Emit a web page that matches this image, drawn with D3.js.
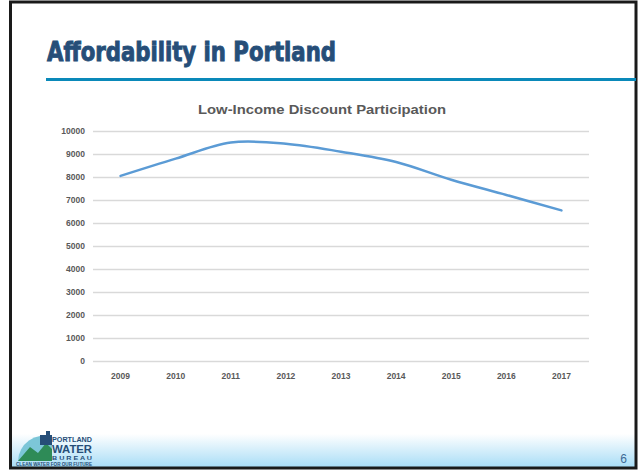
<!DOCTYPE html>
<html>
<head>
<meta charset="utf-8">
<script src="https://cdn.jsdelivr.net/npm/d3@7"></script>
<style>
  body { margin: 0; background: #fff; }
  svg { display: block; font-family: "Liberation Sans", Arial, sans-serif; }
</style>
</head>
<body>
<div id="wrapper"></div>
<script>
// data
const years = ["2009", "2010", "2011", "2012", "2013", "2014", "2015", "2016", "2017"];
const participants = [8050, 8800, 9500, 9450, 9100, 8650, 7880, 7220, 6550];
const yTicks = [0, 1000, 2000, 3000, 4000, 5000, 6000, 7000, 8000, 9000, 10000];

function drawSlide() {
  const dimensions = {
    width: 639,
    height: 471,
    margin: { top: 131, right: 50, bottom: 110, left: 93 },
  };
  dimensions.boundedWidth = 496;
  dimensions.boundedHeight =
    dimensions.height - dimensions.margin.top - dimensions.margin.bottom;

  const wrapper = d3
    .select("#wrapper")
    .append("svg")
    .attr("width", dimensions.width)
    .attr("height", dimensions.height);

  const defs = wrapper.append("defs");
  const grad = defs
    .append("linearGradient")
    .attr("id", "footerGrad")
    .attr("x1", 0).attr("y1", 0).attr("x2", 0).attr("y2", 1);
  grad.append("stop").attr("offset", "0%").attr("stop-color", "#ffffff");
  grad.append("stop").attr("offset", "100%").attr("stop-color", "#a6dcf6");

  // footer band
  wrapper
    .append("rect")
    .attr("x", 10)
    .attr("y", 434)
    .attr("width", 626)
    .attr("height", 34)
    .attr("fill", "url(#footerGrad)");

  // slide frame
  wrapper
    .append("rect")
    .attr("x", 10.5)
    .attr("y", 2)
    .attr("width", 625.5)
    .attr("height", 466)
    .attr("fill", "none")
    .attr("stroke", "#1a1a1a")
    .attr("stroke-width", 3);

  // slide title
  wrapper
    .append("text")
    .attr("x", 47)
    .attr("y", 61)
    .attr("fill", "#264e78")
    .attr("stroke", "#264e78")
    .attr("stroke-width", 0.9)
    .attr("font-family", "'DejaVu Sans Condensed', 'Liberation Sans Narrow', sans-serif")
    .attr("font-size", 26)
    .attr("font-weight", "bold")
    .attr("textLength", 289)
    .attr("lengthAdjust", "spacingAndGlyphs")
    .text("Affordability in Portland");

  wrapper
    .append("rect")
    .attr("x", 46)
    .attr("y", 78)
    .attr("width", 590)
    .attr("height", 3)
    .attr("fill", "#0a89b9");

  // chart title
  wrapper
    .append("text")
    .attr("x", 322)
    .attr("y", 114)
    .attr("text-anchor", "middle")
    .attr("fill", "#595959")
    .attr("font-size", 12.5)
    .attr("font-weight", "bold")
    .attr("textLength", 248)
    .attr("lengthAdjust", "spacingAndGlyphs")
    .text("Low-Income Discount Participation");

  const bounds = wrapper
    .append("g")
    .attr(
      "transform",
      `translate(${dimensions.margin.left}, ${dimensions.margin.top})`
    );

  const xScale = d3
    .scaleBand()
    .domain(years)
    .range([0, dimensions.boundedWidth]);

  const yScale = d3
    .scaleLinear()
    .domain([0, 10000])
    .range([dimensions.boundedHeight, 0]);

  // gridlines via axis
  const yAxisGenerator = d3
    .axisLeft(yScale)
    .tickValues(yTicks)
    .tickSize(-dimensions.boundedWidth)
    .tickPadding(8)
    .tickFormat(d3.format("d"));

  const yAxis = bounds.append("g").call(yAxisGenerator);
  yAxis.select(".domain").remove();
  yAxis
    .selectAll(".tick line")
    .attr("stroke", "#d9d9d9")
    .attr("stroke-width", 1.5);
  yAxis
    .selectAll(".tick text")
    .attr("fill", "#595959")
    .attr("font-size", 8.5)
    .attr("font-weight", "bold")
    .attr("x", -8);

  const xAxisGenerator = d3.axisBottom(xScale).tickSize(0).tickPadding(12);
  const xAxis = bounds
    .append("g")
    .attr("transform", `translate(0, ${dimensions.boundedHeight})`)
    .call(xAxisGenerator);
  xAxis.select(".domain").remove();
  xAxis
    .selectAll(".tick text")
    .attr("fill", "#595959")
    .attr("font-size", 8.5)
    .attr("font-weight", "bold");

  const lineGenerator = d3
    .line()
    .x((d, i) => xScale(years[i]) + xScale.bandwidth() / 2)
    .y((d) => yScale(d))
    .curve(d3.curveCatmullRom.alpha(0.5));

  bounds
    .append("path")
    .datum(participants)
    .attr("d", lineGenerator)
    .attr("fill", "none")
    .attr("stroke", "#5b9bd5")
    .attr("stroke-width", 2.5)
    .attr("stroke-linecap", "round");

  // page number
  wrapper
    .append("text")
    .attr("x", 627)
    .attr("y", 463)
    .attr("text-anchor", "end")
    .attr("fill", "#3d6a96")
    .attr("font-size", 12)
    .text("6");

  // logo (rough)
  const logo = wrapper.append("g").attr("transform", "translate(16, 431)");
  logo
    .append("path")
    .attr("d", "M2,30 A26,26 0 0 1 36,6 L36,30 Z")
    .attr("fill", "#7cc6d8");
  logo
    .append("path")
    .attr("d", "M2,30 L14,16 L22,22 L30,12 L36,18 L36,30 Z")
    .attr("fill", "#2e8b57");
  logo
    .append("path")
    .attr("d", "M24,4 L30,4 L30,0 L34,0 L34,4 L36,4 L36,14 L24,14 Z")
    .attr("fill", "#264e78");
  logo
    .append("text")
    .attr("x", 36)
    .attr("y", 11)
    .attr("fill", "#264e78")
    .attr("font-size", 8)
    .attr("font-weight", "bold")
    .attr("textLength", 40)
    .attr("lengthAdjust", "spacingAndGlyphs")
    .text("PORTLAND");
  logo
    .append("text")
    .attr("x", 36)
    .attr("y", 22)
    .attr("fill", "#264e78")
    .attr("font-size", 10)
    .attr("font-weight", "bold")
    .attr("textLength", 40)
    .attr("lengthAdjust", "spacingAndGlyphs")
    .text("WATER");
  logo
    .append("text")
    .attr("x", 36)
    .attr("y", 29)
    .attr("fill", "#264e78")
    .attr("font-size", 6)
    .attr("font-weight", "bold")
    .attr("textLength", 40)
    .attr("lengthAdjust", "spacingAndGlyphs")
    .text("B U R E A U");
  logo
    .append("text")
    .attr("x", 0)
    .attr("y", 35)
    .attr("fill", "#264e78")
    .attr("font-size", 4.5)
    .attr("font-weight", "bold")
    .attr("textLength", 76)
    .attr("lengthAdjust", "spacingAndGlyphs")
    .text("CLEAN WATER FOR OUR FUTURE");
}

drawSlide();
</script>
</body>
</html>
